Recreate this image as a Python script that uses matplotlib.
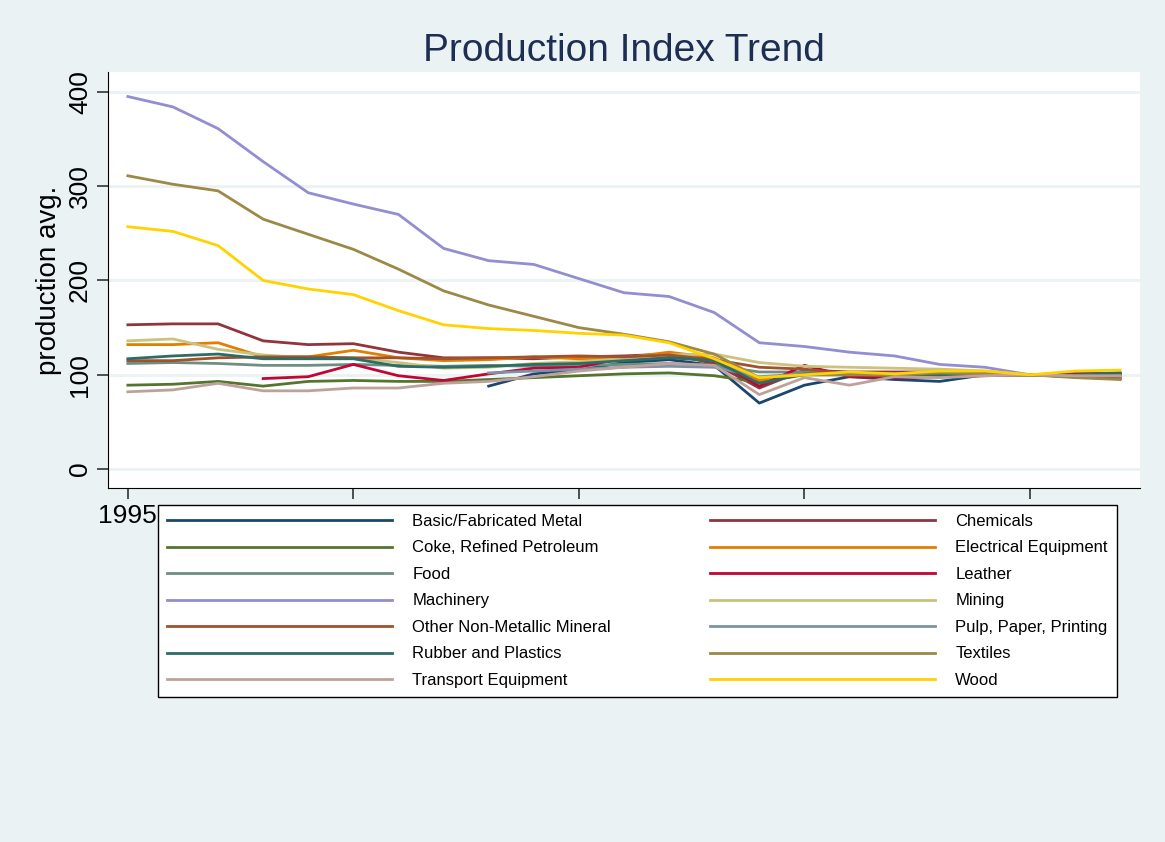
import numpy as np
import matplotlib.pyplot as plt

plt.rcParams['font.family'] = ['Liberation Sans', 'DejaVu Sans']

years = np.arange(1995, 2018)
nan = np.nan

names = ["Basic/Fabricated Metal", "Chemicals", "Coke, Refined Petroleum", "Electrical Equipment",
         "Food", "Leather", "Machinery", "Mining", "Other Non-Metallic Mineral",
         "Pulp, Paper, Printing", "Rubber and Plastics", "Textiles", "Transport Equipment", "Wood"]
colors = ["#1a476f", "#90353b", "#55752f", "#e37e00", "#6e8e84", "#c10534", "#938dd2",
          "#cac27e", "#a0522d", "#7b92a8", "#2d6d66", "#9c8847", "#bfa19c", "#ffd200"]

metal = [nan]*8 + [88, 101, 105, 113, 116, 110, 70, 89, 98, 95, 93, 100, 100, 100, 100]
chemicals = [153, 154, 154, 136, 132, 133, 124, 118, 118, 117, 119, 120, 122, 112, 86, 105, 103, 103, 103, 103, 100, 98, 96]
coke = [89, 90, 93, 88, 93, 94, 93, 93, 95, 97, 99, 101, 102, 99, 92, 100, 100, 100, 100, 100, 100, 101, 101]
electrical = [132, 132, 134, 119, 119, 126, 118, 115, 116, 119, 117, 118, 124, 118, 94, 102, 102, 101, 103, 102, 100, 99, 99]
food = [112, 113, 112, 110, 110, 111, 110, 109, 110, 109, 110, 111, 112, 110, 103, 103, 102, 101, 101, 101, 100, 101, 102]
leather = [nan]*3 + [96, 98, 111, 99, 94, 101, 107, 108, 118, 119, 116, 88, 110, 98, 97, 98, 99, 100, 101, 101]
machinery = [395, 384, 361, 326, 293, 281, 270, 234, 221, 217, 202, 187, 183, 166, 134, 130, 124, 120, 111, 108, 100, 98, 96]
mining = [136, 138, 127, 121, 118, 118, 113, 107, 108, 112, 114, 117, 121, 122, 113, 109, 108, 107, 106, 104, 100, 99, 98]
nonmetal = [115, 115, 118, 119, 119, 118, 118, 117, 118, 119, 120, 119, 121, 116, 108, 106, 101, 98, 98, 100, 100, 98, 96]
pulp = [nan]*8 + [102, 104, 106, 108, 109, 108, 98, 101, 100, 100, 100, 100, 100, 99, 99]
rubber = [117, 120, 122, 117, 117, 117, 109, 108, 109, 111, 112, 115, 118, 115, 91, 101, 100, 100, 100, 101, 100, 100, 102]
textiles = [311, 302, 295, 265, 249, 233, 212, 189, 174, 162, 150, 143, 135, 122, 97, 100, 100, 100, 102, 101, 100, 97, 95]
transport = [82, 84, 91, 83, 83, 86, 86, 91, 93, 98, 104, 108, 112, 110, 79, 97, 89, 98, 97, 99, 100, 99, 99]
wood = [257, 252, 237, 200, 191, 185, 168, 153, 149, 147, 144, 142, 134, 117, 97, 100, 103, 101, 104, 104, 100, 104, 105]

series = [metal, chemicals, coke, electrical, food, leather, machinery, mining,
          nonmetal, pulp, rubber, textiles, transport, wood]

bg = "#eaf2f3"
fig = plt.figure(figsize=(11.65, 8.42), dpi=100, facecolor=bg)
ax = fig.add_axes([108/1165, 1-488/842, (1140-108)/1165, (488-72)/842])
ax.set_facecolor("white")

for name, vals, c in zip(names, series, colors):
    ax.plot(years, vals, color=c, lw=2, label=name)

ax.set_xlim(1994.56, 2017.44)
ax.set_ylim(-20, 421)
ax.set_xticks([1995, 2000, 2005, 2010, 2015])
ax.set_yticks([0, 100, 200, 300, 400])
ax.set_yticklabels(["0", "100", "200", "300", "400"], rotation=90, va="center")
ax.tick_params(labelsize=19, length=8, width=1.2, color="#333333")
ax.grid(axis="y", color="#eaf2f3", lw=2)
for s in ["top", "right"]:
    ax.spines[s].set_visible(False)
ax.set_xlabel("year", fontsize=20, labelpad=0)
ax.set_ylabel("production avg.", fontsize=20, labelpad=4)
ax.set_title("Production Index Trend", fontsize=28, color="#1e2d52", pad=8)

# reorder so the two legend columns read across rows like the reference
handles, labels = ax.get_legend_handles_labels()
order = list(range(0, 14, 2)) + list(range(1, 14, 2))
leg = fig.legend([handles[i] for i in order], [labels[i] for i in order],
                 loc="upper left", bbox_to_anchor=(158/1165, 1-589/842, (1117-158)/1165, 0.1),
                 mode="expand", ncol=2, fontsize=12, frameon=True, fancybox=False,
                 edgecolor="black", facecolor="white", framealpha=1,
                 handlelength=13.5, handletextpad=1.2, columnspacing=1.5,
                 labelspacing=0.69, borderpad=0.55, borderaxespad=0)
leg.get_frame().set_linewidth(1)

fig.savefig("out.png", facecolor=bg)
